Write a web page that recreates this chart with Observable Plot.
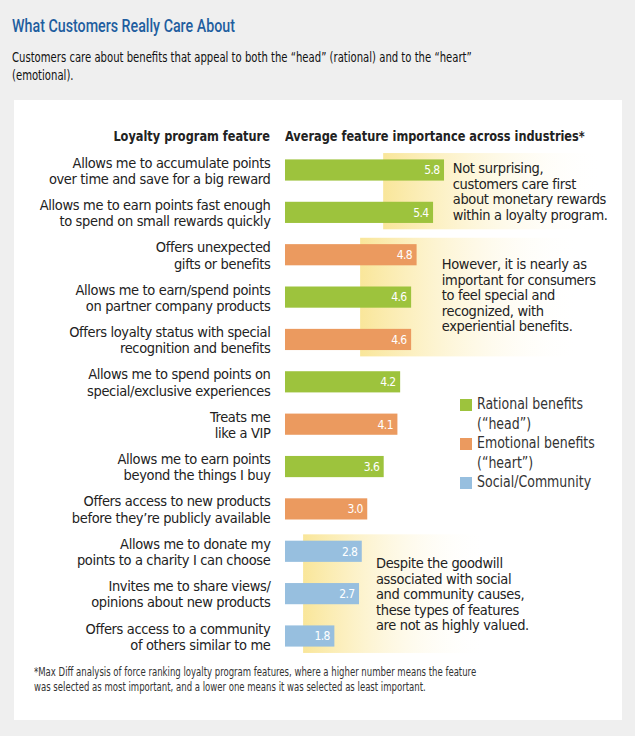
<!DOCTYPE html>
<html>
<head>
<meta charset="utf-8">
<script src="https://cdn.jsdelivr.net/npm/d3@7"></script>
<script src="https://cdn.jsdelivr.net/npm/@observablehq/plot@0.6"></script>
<style>
  html, body { margin: 0; padding: 0; }
  body { width: 635px; height: 736px; background: #efefef; position: relative; overflow: hidden;
         font-family: "DejaVu Sans Condensed", "Roboto", sans-serif; color: #222; }
  .abs { position: absolute; white-space: nowrap; }
  #title { left: 12px; top: 15px; font-size: 18.5px; font-weight: 500; color: #1f5e9f; font-family: "Roboto", sans-serif; transform: scaleX(0.77); transform-origin: 0 0; }
  #subtitle { left: 12px; top: 48px; font-size: 14px; line-height: 18px; color: #111; transform: scaleX(0.8); transform-origin: 0 0; }
  #panel { left: 14px; top: 100px; width: 608px; height: 620px; background: #fff; }
  #chart { left: 0; top: 100px; }
  .hdr { font-weight: bold; font-size: 14.5px; top: 128px; color: #222; transform: scaleX(0.87); }
  #hdrL { right: calc(635px - 270px); transform-origin: 100% 0; }
  #hdrR { left: 285px; transform-origin: 0 0; }
  #legend { left: 460px; top: 395px; font-size: 15.5px; line-height: 19.5px; color: #333; }
  .li { position: relative; padding-left: 17px; }
  .tx { display: inline-block; transform: scaleX(0.9); transform-origin: 0 0; }
  .sw { position: absolute; left: 0; top: 4px; width: 12px; height: 12px; }
  #foot { left: 34px; top: 665px; font-size: 12px; line-height: 15px; color: #333; transform: scaleX(0.79); transform-origin: 0 0; }
</style>
</head>
<body>
<div id="panel" class="abs"></div>
<div id="title" class="abs">What Customers Really Care About</div>
<div id="subtitle" class="abs">Customers care about benefits that appeal to both the “head” (rational) and to the “heart”<br>(emotional).</div>
<div id="chart" class="abs"></div>
<div id="hdrL" class="abs hdr">Loyalty program feature</div>
<div id="hdrR" class="abs hdr">Average feature importance across industries*</div>
<div id="legend" class="abs"></div>
<div id="foot" class="abs">*Max Diff analysis of force ranking loyalty program features, where a higher number means the feature<br>was selected as most important, and a lower one means it was selected as least important.</div>
<script>
// ---- data ----
const features = [
  "Allows me to accumulate points\nover time and save for a big reward",
  "Allows me to earn points fast enough\nto spend on small rewards quickly",
  "Offers unexpected\ngifts or benefits",
  "Allows me to earn/spend points\non partner company products",
  "Offers loyalty status with special\nrecognition and benefits",
  "Allows me to spend points on\nspecial/exclusive experiences",
  "Treats me\nlike a VIP",
  "Allows me to earn points\nbeyond the things I buy",
  "Offers access to new products\nbefore they’re publicly available",
  "Allows me to donate my\npoints to a charity I can choose",
  "Invites me to share views/\nopinions about new products",
  "Offers access to a community\nof others similar to me"
];
const values = [5.8, 5.4, 4.8, 4.6, 4.6, 4.2, 4.1, 3.6, 3.0, 2.8, 2.7, 1.8];
const types = ["Rational", "Rational", "Emotional", "Rational", "Emotional", "Rational",
               "Emotional", "Rational", "Emotional", "Social", "Social", "Social"];
const typeNames = ["Rational", "Emotional", "Social"];
const legendLabels = ["Rational benefits\n(“head”)", "Emotional benefits\n(“heart”)", "Social/Community"];
const typeColors = ["#9dc33d", "#eb9a5f", "#97bfdf"];
const notes = [
  "Not surprising,\ncustomers care first\nabout monetary rewards\nwithin a loyalty program.",
  "However, it is nearly as\nimportant for consumers\nto feel special and\nrecognized, with\nexperiential benefits.",
  "Despite the goodwill\nassociated with social\nand community causes,\nthese types of features\nare not as highly valued."
];
const noteFirst = [0, 2, 9];   // first feature each note covers
const noteLast = [1, 4, 11];   // last feature each note covers

// ---- build tables ----
const rows = features.map((f, i) => ({i, label: f, value: values[i], type: types[i]}));
// annotation placement (x-scale units / row index)
const noteBandX = [3.58, 2.74, 0.66];
const noteBandEnd = [11.6, 10.8, 7.4];
const noteTextX = [6.1, 5.7, 3.3];
const annots = notes.map((t, k) => ({
  text: t,
  x1: noteBandX[k], x2: noteBandEnd[k],
  y1: noteFirst[k] - 0.4, y2: noteLast[k] + 0.4,
  tx: noteTextX[k], ty: (noteFirst[k] + noteLast[k]) / 2
}));
annots[1].ty = 2.95;

const FONT = "DejaVu Sans Condensed, Roboto, sans-serif";

const defs = () => {
  const g = d3.create("svg:defs");
  const lg = g.append("linearGradient").attr("id", "fade").attr("x1", 0).attr("x2", 1).attr("y1", 0).attr("y2", 0);
  lg.append("stop").attr("offset", 0).attr("stop-color", "#f9e69a").attr("stop-opacity", 1);
  lg.append("stop").attr("offset", 0.25).attr("stop-color", "#fcefbd").attr("stop-opacity", 0.9);
  lg.append("stop").attr("offset", 1).attr("stop-color", "#ffffff").attr("stop-opacity", 0);
  return g.node();
};

const chart = Plot.plot({
  width: 635,
  height: 560,
  marginLeft: 285,
  marginRight: 21,
  marginTop: 70,
  marginBottom: 24,
  style: {background: "transparent", fontFamily: FONT},
  x: {domain: [0, 12], axis: null},
  y: {domain: [0, 11], reverse: true, axis: null},
  color: {domain: typeNames, range: typeColors},
  marks: [
    defs,
    Plot.rect(annots, {x1: "x1", x2: "x2", y1: "y1", y2: "y2", fill: "url(#fade)"}),
    Plot.rect(rows, {x1: 0, x2: "value", y1: d => d.i - 0.25, y2: d => d.i + 0.25, fill: "type"}),
    Plot.text(rows, {x: "value", y: "i", text: d => d.value.toFixed(1), dx: -5, textAnchor: "end",
                     fill: "white", fontSize: 12}),
    Plot.text(rows, {x: 0, y: "i", text: "label", dx: -15, textAnchor: "end", lineAnchor: "middle",
                     lineHeight: 1.12, fontSize: 14.5, fill: "#222"}),
    Plot.text(annots, {x: "tx", y: "ty", text: "text", textAnchor: "start", lineAnchor: "middle",
                       lineHeight: 1.07, fontSize: 14.5, fill: "#222"})
  ]
});
const textGroups = chart.querySelectorAll('g[aria-label="text"]');
const spacing = ["-0.6px", "-0.35px", "-0.35px"];
textGroups.forEach((g, k) => g.style.letterSpacing = spacing[k] || "0");
document.getElementById("chart").appendChild(chart);

// legend
const leg = document.getElementById("legend");
typeNames.forEach((t, k) => {
  const d = document.createElement("div");
  d.className = "li";
  d.innerHTML = `<span class="sw" style="background:${typeColors[k]}"></span><span class="tx">` +
    legendLabels[k].split("\n").join("<br>") + "</span>";
  leg.appendChild(d);
});
</script>
</body>
</html>
